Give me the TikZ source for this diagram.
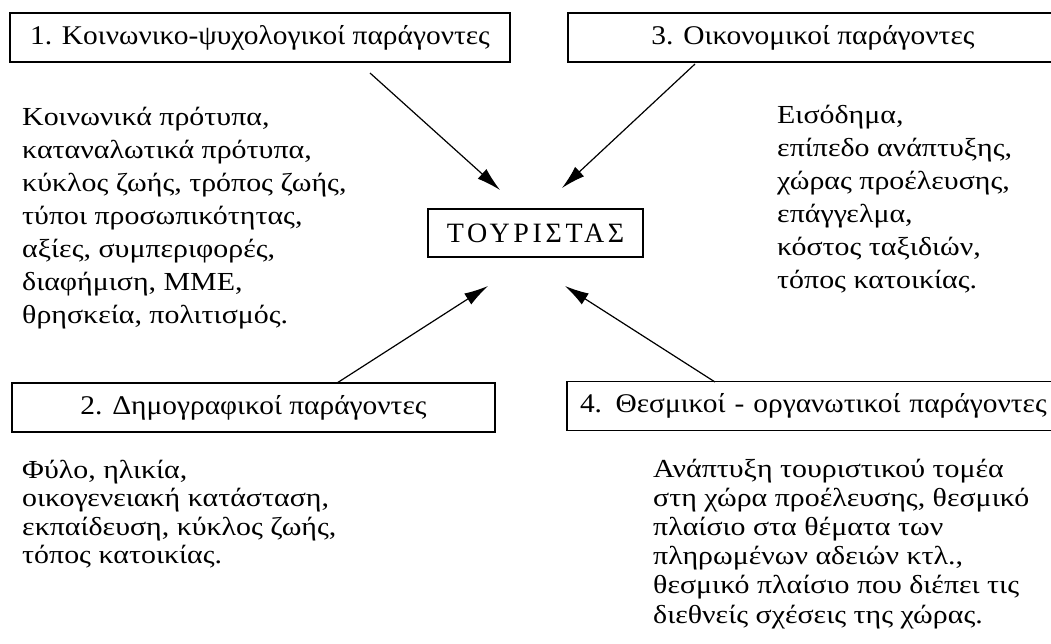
\documentclass[tikz,border=0pt]{standalone}
\usepackage{fontspec}
\setmainfont{Liberation Serif}
\usetikzlibrary{arrows.meta}
\begin{document}
\begin{tikzpicture}[x=1pt,y=-1pt,
  factor/.style={draw,line width=1.3pt,inner sep=0pt,minimum height=49pt,font=\fontsize{27}{30}\selectfont\addfontfeature{FakeStretch=1.09}},
  body/.style={inner sep=0pt,anchor=base west,align=left},
  bodyfont/.style={font=\fontsize{26}{#1}\selectfont\addfontfeature{FakeStretch=1.15}},
  arr/.style={line width=1.2pt,-{Latex[length=24pt,width=13pt]}}]
\useasboundingbox (0,0) rectangle (1051,643);
\clip (0,0) rectangle (1051,643);
% factor boxes
\node[factor,minimum width=500pt] (b1) at (260,37.5) {1. Κοινωνικο-ψυχολογικοί παράγοντες};
\node[factor,minimum width=490pt] (b3) at (813,37.5) {3. Οικονομικοί παράγοντες};
\node[factor,minimum width=483pt] (b2) at (253.5,407.5) {2. Δημογραφικοί παράγοντες};
\node[factor,minimum width=493pt,text width=467pt,align=left] (b4) at (813.5,406) {4. Θεσμικοί - οργανωτικοί παράγοντες};
% central box
\node[draw,line width=1.3pt,minimum width=215pt,minimum height=48pt,inner sep=0pt,
  font=\fontsize{28}{30}\selectfont\addfontfeature{LetterSpace=13}] (t) at (535.5,233) {ΤΟΥΡΙΣΤΑΣ};
% text blocks (anchor = baseline of last line)
\node[body,bodyfont=33] (tl) at (22,323) {Κοινωνικά πρότυπα,\\καταναλωτικά πρότυπα,\\κύκλος ζωής, τρόπος ζωής,\\τύποι προσωπικότητας,\\αξίες, συμπεριφορές,\\διαφήμιση, ΜΜΕ,\\θρησκεία, πολιτισμός.};
\node[body,bodyfont=33] (tr) at (777,288) {Εισόδημα,\\επίπεδο ανάπτυξης,\\χώρας προέλευσης,\\επάγγελμα,\\κόστος ταξιδιών,\\τόπος κατοικίας.};
\node[body,bodyfont=28.5] (bl) at (22,563.5) {Φύλο, ηλικία,\\οικογενειακή κατάσταση,\\εκπαίδευση, κύκλος ζωής,\\τόπος κατοικίας.};
\node[body,bodyfont=29.2] (br) at (653,623) {Ανάπτυξη τουριστικού τομέα\\στη χώρα προέλευσης, θεσμικό\\πλαίσιο στα θέματα των\\πληρωμένων αδειών κτλ.,\\θεσμικό πλαίσιο που διέπει τις\\διεθνείς σχέσεις της χώρας.};
% arrow ends
\coordinate (s1) at (370,73);
\coordinate (e1) at (500,190);
\coordinate (s3) at (695,64);
\coordinate (e3) at (562,188);
\coordinate (s2) at (337,383);
\coordinate (e2) at (488,286);
\coordinate (s4) at (715,382);
\coordinate (e4) at (565,286);
\draw[arr] (s1) -- (e1);
\draw[arr] (s3) -- (e3);
\draw[arr] (s2) -- (e2);
\draw[arr] (s4) -- (e4);
\end{tikzpicture}
\end{document}
